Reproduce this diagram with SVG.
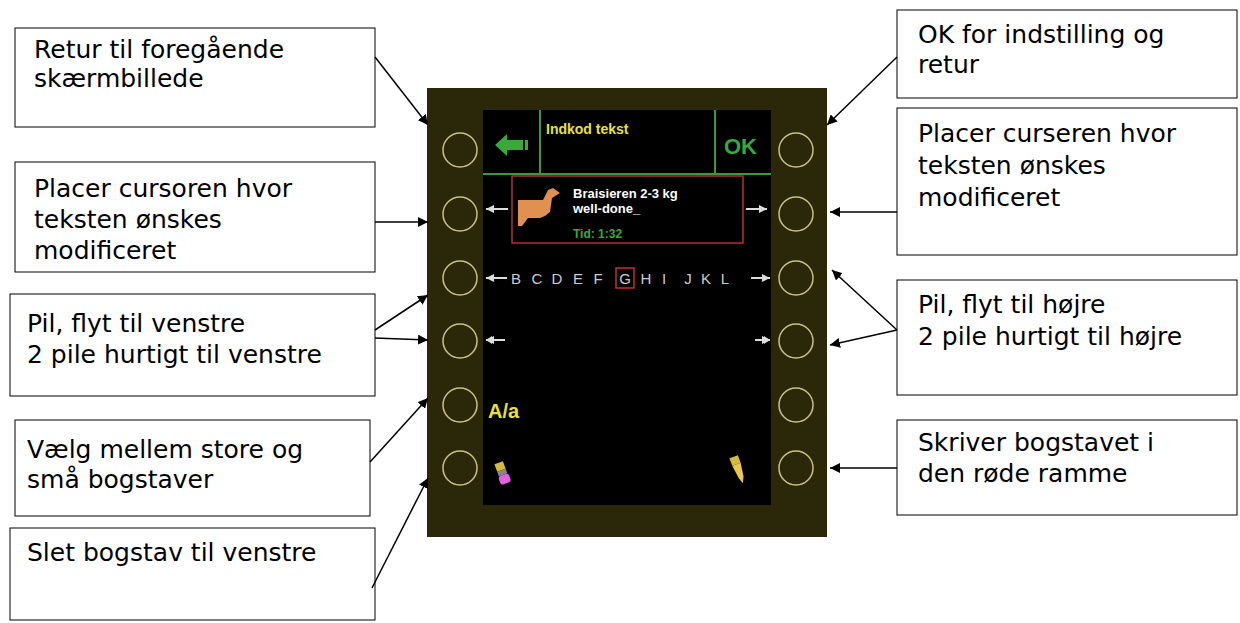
<svg xmlns="http://www.w3.org/2000/svg" width="1240" height="623" viewBox="0 0 1240 623">
<defs>
<marker id="ah" viewBox="0 0 10 10" refX="10" refY="5" markerWidth="10" markerHeight="10" markerUnits="userSpaceOnUse" orient="auto"><path d="M0,0 L10,5 L0,10 z" fill="#000"/></marker>
<marker id="wa" viewBox="0 0 10 10" refX="10" refY="5" markerWidth="8" markerHeight="8" markerUnits="userSpaceOnUse" orient="auto"><path d="M0,0 L10,5 L0,10 z" fill="#ddd"/></marker>
</defs>
<style>
.box{fill:#fff;stroke:#000;stroke-width:1}
.t{font-family:"DejaVu Sans",sans-serif;font-size:25px;fill:#000}
.c{fill:none;stroke:#c8c08a;stroke-width:1.5}
.con line{stroke:#000;stroke-width:1.5;marker-end:url(#ah)}
.s{font-family:"Liberation Sans",Arial,sans-serif;font-weight:bold}
.wl{stroke:#ddd;stroke-width:2}
.lt{font-family:"Liberation Sans",Arial,sans-serif;font-size:15px;fill:#ccc;text-anchor:middle}
</style>
<rect width="1240" height="623" fill="#fff"/>
<g id="device">
<rect x="427" y="88" width="400" height="449" fill="#2a2808"/>
<rect x="483" y="110" width="288" height="395" fill="#000"/>
<circle class="c" cx="460" cy="150" r="17"/><circle class="c" cx="460" cy="214" r="17"/><circle class="c" cx="460" cy="278" r="17"/><circle class="c" cx="460" cy="341" r="17"/><circle class="c" cx="460" cy="405" r="17"/><circle class="c" cx="460" cy="468" r="17"/>
<circle class="c" cx="796" cy="150" r="17"/><circle class="c" cx="796" cy="214" r="17"/><circle class="c" cx="796" cy="278" r="17"/><circle class="c" cx="796" cy="341" r="17"/><circle class="c" cx="796" cy="405" r="17"/><circle class="c" cx="796" cy="468" r="17"/>
<line x1="483" y1="174" x2="771" y2="174" stroke="#3a9a3a" stroke-width="2"/>
<line x1="540" y1="110" x2="540" y2="174" stroke="#3a9a3a" stroke-width="2"/>
<line x1="715" y1="110" x2="715" y2="174" stroke="#3a9a3a" stroke-width="2"/>
<path d="M495,145 L507,134 L507,140 L523,140 L523,150 L507,150 L507,156 z" fill="#3aa83a"/>
<rect x="525" y="140" width="3" height="10" fill="#3aa83a"/>
<text x="546" y="134" class="s" font-size="14" fill="#e8e040">Indkod tekst</text>
<text x="724" y="154" class="s" font-size="22" fill="#3aa83a">OK</text>
<rect x="512" y="176" width="231" height="67" fill="none" stroke="#b03030" stroke-width="1.5"/>
<path d="M518,200 L543,200 L548,190 L553,188 L560,193 L552,198 L550,212 L545,216 L540,218 L528,218 L522,226 L518,226 z" fill="#e09050"/>
<text x="573" y="198" class="s" font-size="13" fill="#fff">Braisieren 2-3 kg</text>
<text x="573" y="213" class="s" font-size="13" fill="#fff">well-done_</text>
<text x="573" y="238" class="s" font-size="12" fill="#3aa83a">Tid: 1:32</text>
<line class="wl" x1="508" y1="209" x2="486" y2="209" marker-end="url(#wa)"/>
<line class="wl" x1="746" y1="209" x2="767" y2="209" marker-end="url(#wa)"/>
<line class="wl" x1="507" y1="278" x2="486" y2="278" marker-end="url(#wa)"/>
<line class="wl" x1="751" y1="278" x2="770" y2="278" marker-end="url(#wa)"/>
<text class="lt" x="516" y="284">B</text><text class="lt" x="537" y="284">C</text><text class="lt" x="557" y="284">D</text><text class="lt" x="578" y="284">E</text><text class="lt" x="598" y="284">F</text><text class="lt" x="625" y="284">G</text><text class="lt" x="646" y="284">H</text><text class="lt" x="664" y="284">I</text><text class="lt" x="688" y="284">J</text><text class="lt" x="706" y="284">K</text><text class="lt" x="725" y="284">L</text>
<rect x="616" y="268" width="18" height="20" fill="none" stroke="#c03030" stroke-width="1.5"/>
<line class="wl" x1="505" y1="340" x2="486" y2="340" marker-end="url(#wa)"/>
<path d="M492,336 L486,340 L492,344 z" fill="#ddd"/>
<line class="wl" x1="755" y1="340" x2="770" y2="340" marker-end="url(#wa)"/>
<path d="M764,336 L770,340 L764,344 z" fill="#ddd"/>
<text x="488" y="418" class="s" font-size="20" fill="#e8e040">A/a</text>
<g transform="translate(503,476) rotate(-20)"><rect x="-4" y="-14" width="9" height="8" fill="#d8b840"/><rect x="-4" y="-6" width="9" height="5" fill="#888"/><rect x="-5" y="-1" width="11" height="9" rx="3" fill="#e060e0"/></g>
<g transform="translate(738,470) rotate(-20)"><rect x="-4" y="-14" width="9" height="8" fill="#d8b840"/><path d="M-4,-6 L5,-6 L3,8 L0,14 L-2,8 z" fill="#e8c850"/></g>
</g>
<g id="n-l1"><rect class="box" x="15" y="28" width="360" height="99"/><text class="t" x="34" y="58">Retur til foregående</text><text class="t" x="34" y="87">skærmbillede</text></g>
<g id="n-l2"><rect class="box" x="15" y="162" width="360" height="110"/><text class="t" x="34" y="197">Placer cursoren hvor</text><text class="t" x="34" y="228">teksten ønskes</text><text class="t" x="34" y="259">modificeret</text></g>
<g id="n-l3"><rect class="box" x="10" y="294" width="365" height="102"/><text class="t" x="27" y="332">Pil, flyt til venstre</text><text class="t" x="27" y="363">2 pile hurtigt til venstre</text></g>
<g id="n-l4"><rect class="box" x="15" y="420" width="355" height="96"/><text class="t" x="27" y="458">Vælg mellem store og</text><text class="t" x="27" y="488">små bogstaver</text></g>
<g id="n-l5"><rect class="box" x="10" y="528" width="365" height="92"/><text class="t" x="27" y="561">Slet bogstav til venstre</text></g>
<g id="n-r1"><rect class="box" x="897" y="10" width="340" height="88"/><text class="t" x="918" y="43">OK for indstilling og</text><text class="t" x="918" y="73">retur</text></g>
<g id="n-r2"><rect class="box" x="897" y="108" width="340" height="147"/><text class="t" x="918" y="142">Placer curseren hvor</text><text class="t" x="918" y="174">teksten ønskes</text><text class="t" x="918" y="206">modificeret</text></g>
<g id="n-r3"><rect class="box" x="897" y="280" width="340" height="115"/><text class="t" x="918" y="313">Pil, flyt til højre</text><text class="t" x="918" y="345">2 pile hurtigt til højre</text></g>
<g id="n-r4"><rect class="box" x="897" y="420" width="340" height="95"/><text class="t" x="918" y="451">Skriver bogstavet i</text><text class="t" x="918" y="482">den røde ramme</text></g>
<g id="connectors" class="con">
<line x1="375" y1="57" x2="428" y2="125"/>
<line x1="375" y1="222" x2="428" y2="222"/>
<line x1="375" y1="330" x2="428" y2="295"/>
<line x1="375" y1="338" x2="428" y2="340"/>
<line x1="370" y1="462" x2="428" y2="398"/>
<line x1="372" y1="588" x2="428" y2="478"/>
<line x1="897" y1="57" x2="827" y2="125"/>
<line x1="897" y1="212" x2="830" y2="212"/>
<line x1="897" y1="330" x2="832" y2="270"/>
<line x1="897" y1="330" x2="830" y2="345"/>
<line x1="897" y1="468" x2="830" y2="468"/>
</g>
</svg>
